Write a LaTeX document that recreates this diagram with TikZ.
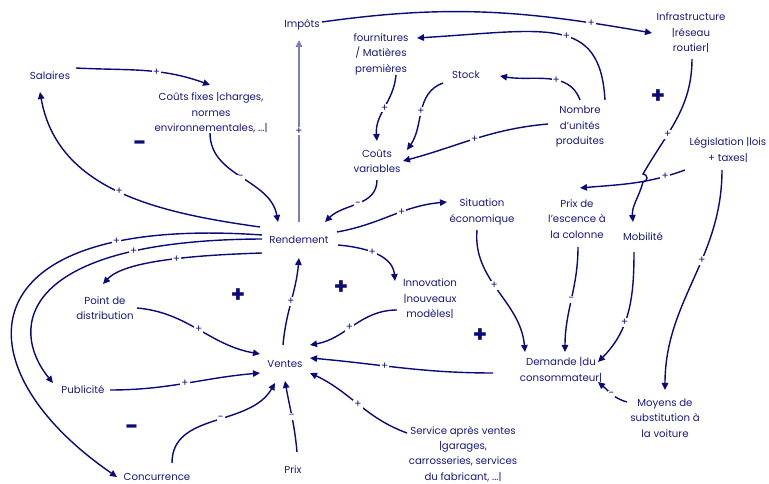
\documentclass[tikz,border=0pt]{standalone}
\usepackage{fontspec}
\setmainfont{Poppins}
\usetikzlibrary{arrows.meta,calc}

\definecolor{ink}{RGB}{10,10,120}
\definecolor{inktext}{RGB}{25,25,125}
\definecolor{inklight}{RGB}{125,125,190}

\begin{document}
\begin{tikzpicture}[
        x=0.02cm, y=0.02cm,
        >={Triangle[length=1.4mm,width=1.3mm]},
        varbox/.style={align=center,text=inktext,inner sep=1pt,font=\fontsize{5.8}{8.8}\selectfont},
        link/.style={->,draw=ink,line width=0.8pt},
        lbl/.style={fill=white,text=inktext,inner sep=0.6pt,font=\fontsize{6}{6}\selectfont},
        polarity/.style={text=ink,font=\fontsize{13}{13}\selectfont\bfseries}
    ]
        \useasboundingbox (0,0) rectangle (769,484);

        \node[varbox] (sal)   at (50,408)  {Salaires};
        \node[varbox] (cfix)  at (211,371) {Coûts fixes |charges,\\ normes\\ environnementales, ...|};
        \node[varbox] (imp)   at (302,459) {Impôts};
        \node[varbox] (four)  at (381,430) {fournitures\\ / Matières\\ premières};
        \node[varbox] (stock) at (466,409) {Stock};
        \node[varbox] (nbre)  at (580,357) {Nombre\\ d'unités\\ produites};
        \node[varbox] (infra) at (691,451) {Infrastructure\\ |réseau\\ routier|};
        \node[varbox] (cvar)  at (377,323) {Coûts\\ variables};
        \node[varbox] (legis) at (728,334) {Législation |lois\\ + taxes|};
        \node[varbox] (rend)  at (299,244) {Rendement};
        \node[varbox] (situ)  at (482,272) {Situation\\ économique};
        \node[varbox] (pess)  at (577,265) {Prix de\\ l'escence à\\ la colonne};
        \node[varbox] (mob)   at (643,247) {Mobilité};
        \node[varbox] (pdist) at (105,176) {Point de\\ distribution};
        \node[varbox] (inno)  at (430,185) {Innovation\\ |nouveaux\\ modèles|};
        \node[varbox] (vent)  at (285,120) {Ventes};
        \node[varbox] (dem)   at (561,114) {Demande |du\\ consommateur|};
        \node[varbox] (pub)   at (83,94)   {Publicité};
        \node[varbox] (moy)   at (665,66)  {Moyens de\\ substitution à\\ la voiture};
        \node[varbox] (sav)   at (463,30)  {Service après ventes\\ |garages,\\ carrosseries, services\\ du fabricant, ...|};
        \node[varbox] (prix)  at (293,14)  {Prix};
        \node[varbox] (conc)  at (157,7)   {Concurrence};

        \node[polarity] (pol1) at (140,338) {-};
        \node[polarity] (pol2) at (658,387) {+};
        \node[polarity] (pol3) at (238,188) {+};
        \node[polarity] (pol4) at (341,196) {+};
        \node[polarity] (pol5) at (480,148) {+};
        \node[polarity] (pol6) at (132,54)  {-};

        \draw[link] ($(sal)+(26,8)$) to[out=-3,in=160] node[lbl,pos=.6]{+} ($(cfix)+(-1,28)$);
        \draw[link] ($(cfix)+(-1,-20)$) to[out=-90,in=100] node[lbl]{-} ($(rend)+(-21,18)$);
        \draw[link] ($(rend)+(-39,13)$) to[out=172,in=-80] node[lbl]{+} ($(sal)+(-10,-16)$);
        \draw[link,draw=inklight] ($(rend)+(0,18)$) -- node[lbl]{+} ($(imp)+(-3,-15)$);
        \draw[link] ($(imp)+(20,3)$) to[out=8,in=170] node[lbl,pos=.83]{+} ($(infra)+(-39,0)$);

        \draw[link] ($(nbre)+(25,27)$) .. controls +(-5,85) and +(130,8) .. node[lbl,pos=.45]{+} ($(four)+(36,16)$);
        \draw[link] ($(nbre)+(0,27)$) to[out=110,in=-10] node[lbl,pos=.4]{+} ($(stock)+(34,-1)$);
        \draw[link] ($(nbre)+(-32,3)$) to[out=185,in=15] node[lbl]{+} ($(cvar)+(26,0)$);
        \draw[link] ($(stock)+(-23,-8)$) to[out=200,in=55] node[lbl]{+} ($(cvar)+(30,11)$);
        \draw[link] ($(four)+(15,-21)$) to[out=-95,in=95] node[lbl]{+} ($(cvar)+(0,20)$);
        \draw[link] ($(cvar)+(0,-19)$) to[out=-90,in=45] node[lbl]{-} ($(rend)+(26,18)$);

        % saut au croisement
        \coordinate (hop) at (643,306);
        \draw[link] ($(infra)+(1,-26)$) to[out=-90,in=60] node[lbl,pos=.65]{+} ($(hop)+(0,4)$)
            arc[start angle=90,end angle=-90,radius=0.8mm] to[out=-105,in=95] ($(mob)+(-10,15)$);
        \draw[link] ($(legis)+(-43,-20)$) to[out=200,in=5] node[lbl,pos=.18]{+} ($(pess)+(3,31)$);
        \draw[link] ($(legis)+(-6,-20)$) to[out=-90,in=90] node[lbl,pos=.4]{+} ($(moy)+(0,28)$);

        \draw[link] ($(rend)+(38,8)$) to[out=10,in=185] node[lbl,pos=.6]{+} ($(situ)+(-35,10)$);
        \draw[link] ($(rend)+(39,-5)$) to[out=-5,in=95] node[lbl,pos=.45]{+} ($(inno)+(-35,18)$);
        \draw[link] ($(rend)+(-37,-13)$) .. controls +(-62,-2) and +(22,24) .. node[lbl,pos=.45]{+} ($(pdist)+(-2,24)$);
        \draw[link] ($(rend)+(-37,1)$) .. controls +(-242,-1) and +(-45,55) .. node[lbl,pos=.22]{+} ($(pub)+(-30,7)$);
        \draw[link] ($(rend)+(-37,5)$) .. controls +(-300,21) and +(-160,110) .. node[lbl,pos=.2]{+} ($(conc)+(-40,0)$);

        \draw[link] ($(pdist)+(32,0)$) to[out=-5,in=170] node[lbl]{+} ($(vent)+(-25,10)$);
        \draw[link] ($(pub)+(27,0)$) to[out=0,in=185] node[lbl]{+} ($(vent)+(-25,-9)$);
        \draw[link] ($(conc)+(15,14)$) to[out=90,in=-120] node[lbl,pos=.55]{-} ($(vent)+(-10,-19)$);
        \draw[link] ($(prix)+(4,18)$) to[out=95,in=-80] node[lbl]{-} ($(vent)+(0,-17)$);
        \draw[link] ($(sav)+(-56,21)$) to[out=160,in=-25] node[lbl]{+} ($(vent)+(25,-9)$);
        \draw[link] ($(vent)+(-2,19)$) to[out=85,in=-95] node[lbl]{+} ($(rend)+(0,-18)$);
        \draw[link] ($(inno)+(-33,-11)$) to[out=180,in=10] node[lbl,pos=.55]{+} ($(vent)+(25,19)$);
        \draw[link] ($(dem)+(-68,-3)$) to[out=180,in=-5] node[lbl,pos=.6]{+} ($(vent)+(25,6)$);

        \draw[link] ($(situ)+(-5,-18)$) to[out=-95,in=95] node[lbl,pos=.45]{+} ($(dem)+(-36,18)$);
        \draw[link] ($(pess)+(1,-28)$) to[out=-90,in=90] node[lbl]{-} ($(dem)+(4,18)$);
        \draw[link] ($(mob)+(-9,-15)$) to[out=-90,in=45] node[lbl,pos=.6]{+} ($(dem)+(37,8)$);
        \draw[link] ($(moy)+(-38,16)$) to[out=165,in=-40] node[lbl]{-} ($(dem)+(37,-12)$);
\end{tikzpicture}
\end{document}
